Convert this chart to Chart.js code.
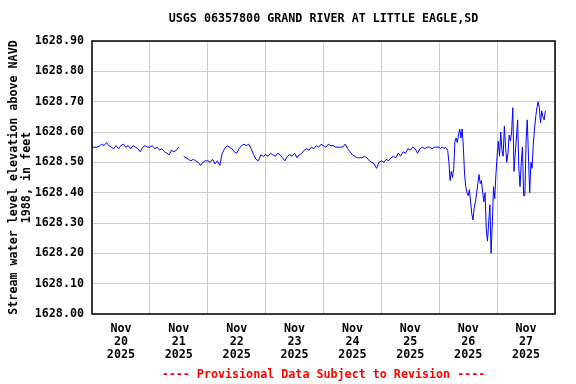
<!DOCTYPE html>
<html>
<head>
<meta charset="utf-8">
<script src="https://cdn.jsdelivr.net/npm/chart.js@4/dist/chart.umd.min.js"></script>
<style>
  body { margin: 0; background: #fff; }
  #wrap { width: 576px; height: 384px; }
</style>
</head>
<body>
<div id="wrap"><canvas id="chartCanvas" width="576" height="384"></canvas></div>
<script>
// day labels, one per day, centred at noon
const dayLabels = ['20', '21', '22', '23', '24', '25', '26', '27'];
const yTicks = [1628.0, 1628.1, 1628.2, 1628.3, 1628.4, 1628.5, 1628.6, 1628.7, 1628.8, 1628.9];

// gage height, hourly from Nov 20 00:00 (hour 0) to hour 143
const levelsHourly = [
  1628.55, 1628.55, 1628.55, 1628.553, 1628.56, 1628.555, 1628.565, 1628.555, 1628.55, 1628.545, 1628.555, 1628.545,
  1628.555, 1628.56, 1628.55, 1628.555, 1628.545, 1628.555, 1628.55, 1628.545, 1628.535, 1628.55, 1628.555, 1628.55,
  1628.55, 1628.555, 1628.545, 1628.55, 1628.54, 1628.545, 1628.535, 1628.53, 1628.525, 1628.54, 1628.535, 1628.54,
  1628.55, null, 1628.52, 1628.515, 1628.51, 1628.505, 1628.51, 1628.505, 1628.50, 1628.49, 1628.50, 1628.505,
  1628.505, 1628.50, 1628.51, 1628.495, 1628.505, 1628.49, 1628.53, 1628.545, 1628.555, 1628.55, 1628.545, 1628.535,
  1628.53, 1628.545, 1628.555, 1628.56, 1628.555, 1628.56, 1628.545, 1628.525, 1628.51, 1628.505, 1628.525, 1628.52,
  1628.525, 1628.52, 1628.53, 1628.525, 1628.52, 1628.53, 1628.525, 1628.515, 1628.505, 1628.52, 1628.525, 1628.52,
  1628.53, 1628.515, 1628.525, 1628.53, 1628.54, 1628.545, 1628.54, 1628.55, 1628.545, 1628.555, 1628.55, 1628.56,
  1628.555, 1628.55, 1628.56, 1628.555, 1628.555, 1628.55, 1628.55, 1628.55, 1628.55, 1628.56, 1628.545, 1628.535,
  1628.525, 1628.52, 1628.515, 1628.515, 1628.515, 1628.52, 1628.515, 1628.505, 1628.50, 1628.495, 1628.48, 1628.50,
  1628.505, 1628.50, 1628.51, 1628.505, 1628.515, 1628.52, 1628.515, 1628.53, 1628.52, 1628.535, 1628.53, 1628.545,
  1628.54, 1628.55, 1628.545, 1628.53, 1628.545, 1628.55, 1628.545, 1628.55, 1628.55, 1628.545, 1628.55, 1628.55,
];

// gage height, every half hour from hour 144 (Nov 26 00:00) to hour 188
const levelsHalfHourly = [
  1628.55, 1628.545, 1628.55, 1628.55, 1628.545, 1628.55, 1628.545, 1628.54,
  1628.50, 1628.44, 1628.47, 1628.45, 1628.48, 1628.57, 1628.58, 1628.565,
  1628.59, 1628.61, 1628.58, 1628.61, 1628.55, 1628.46, 1628.42, 1628.40,
  1628.39, 1628.41, 1628.37, 1628.33, 1628.31, 1628.35, 1628.37, 1628.40,
  1628.43, 1628.46, 1628.43, 1628.44, 1628.40, 1628.37, 1628.40, 1628.28,
  1628.24, 1628.30, 1628.36, 1628.20, 1628.30, 1628.42, 1628.38, 1628.46,
  1628.52, 1628.57, 1628.52, 1628.60, 1628.54, 1628.52, 1628.62, 1628.55,
  1628.50, 1628.53, 1628.59, 1628.57, 1628.60, 1628.68, 1628.47, 1628.53,
  1628.58, 1628.64, 1628.48, 1628.42, 1628.50, 1628.55, 1628.39, 1628.39,
  1628.57, 1628.64, 1628.52, 1628.40, 1628.50, 1628.48, 1628.56, 1628.61,
  1628.65, 1628.68, 1628.70, 1628.68, 1628.63, 1628.67, 1628.65, 1628.64,
  1628.67,
];

const FONT = 'DejaVu Sans Mono';

function buildPoints() {
  const pts = levelsHourly.map((v, i) => ({ x: i, y: v }));
  levelsHalfHourly.forEach((v, i) => pts.push({ x: 144 + i * 0.5, y: v }));
  return pts;
}

// black frame round the plot area
const frame = {
  id: 'frame',
  afterDraw(chart) {
    const a = chart.chartArea;
    const ctx = chart.ctx;
    ctx.save();
    ctx.strokeStyle = '#000';
    ctx.lineWidth = 1.5;
    ctx.strokeRect(a.left, a.top, a.right - a.left, a.bottom - a.top);
    ctx.restore();
  },
};

const ctx = document.getElementById('chartCanvas').getContext('2d');
new Chart(ctx, {
  type: 'line',
  data: {
    datasets: [
      {
        data: buildPoints(),
        borderColor: '#0000ff',
        borderWidth: 1,
        pointRadius: 0,
        tension: 0,
        spanGaps: false,
      },
    ],
  },
  options: {
    responsive: false,
    animation: false,
    events: [],
    layout: { padding: { left: 0, right: 21, top: 0, bottom: 0 } },
    plugins: {
      legend: { display: false },
      tooltip: { enabled: false },
    },
    scales: {
      // top axis only carries the chart title, centred over the plot
      xTop: {
        type: 'linear',
        position: 'top',
        min: 0,
        max: 192,
        afterFit: (scale) => {
          scale.height = 41;
        },
        grid: { display: false, drawTicks: false },
        border: { display: false },
        ticks: { display: false },
        title: {
          display: true,
          text: 'USGS 06357800 GRAND RIVER AT LITTLE EAGLE,SD',
          color: '#000',
          font: { family: FONT, size: 11.7, weight: 'bold' },
          padding: { top: 12, bottom: 0 },
        },
      },
      x: {
        type: 'linear',
        min: 0,
        max: 192,
        afterBuildTicks: (scale) => {
          const t = [];
          for (let h = 0; h <= 192; h += 12) t.push({ value: h });
          scale.ticks = t;
        },
        afterFit: (scale) => {
          scale.height = 70;
        },
        grid: {
          color: (c) => (c.tick && c.tick.value % 24 === 0 ? '#cccccc' : 'rgba(0,0,0,0)'),
          lineWidth: 1,
          drawTicks: false,
        },
        border: { display: false },
        ticks: {
          autoSkip: false,
          maxRotation: 0,
          padding: 9,
          color: '#000',
          font: { family: FONT, size: 11.7, weight: 'bold', lineHeight: 1.1 },
          callback: (value) => {
            if (value % 24 !== 12) return '';
            const d = dayLabels[(value - 12) / 24];
            return d ? ['Nov', d, '2025'] : '';
          },
        },
        title: {
          display: true,
          text: '---- Provisional Data Subject to Revision ----',
          color: '#ff0000',
          font: { family: FONT, size: 11.7, weight: 'bold' },
          padding: { top: 0, bottom: 2 },
        },
      },
      y: {
        min: yTicks[0],
        max: yTicks[yTicks.length - 1],
        afterBuildTicks: (scale) => {
          scale.ticks = yTicks.map((v) => ({ value: v }));
        },
        afterFit: (scale) => {
          scale.width = 92;
        },
        grid: { color: '#cccccc', lineWidth: 1, drawTicks: false },
        border: { display: false },
        ticks: {
          padding: 8,
          color: '#000',
          font: { family: FONT, size: 11.7, weight: 'bold' },
          callback: (value) => value.toFixed(2),
        },
        title: {
          display: true,
          text: ['Stream water level elevation above NAVD', '1988, in feet'],
          color: '#000',
          font: { family: FONT, size: 11.7, weight: 'bold', lineHeight: 1.15 },
          padding: { top: 7, bottom: 0 },
        },
      },
    },
  },
  plugins: [frame],
});
</script>
</body>
</html>
